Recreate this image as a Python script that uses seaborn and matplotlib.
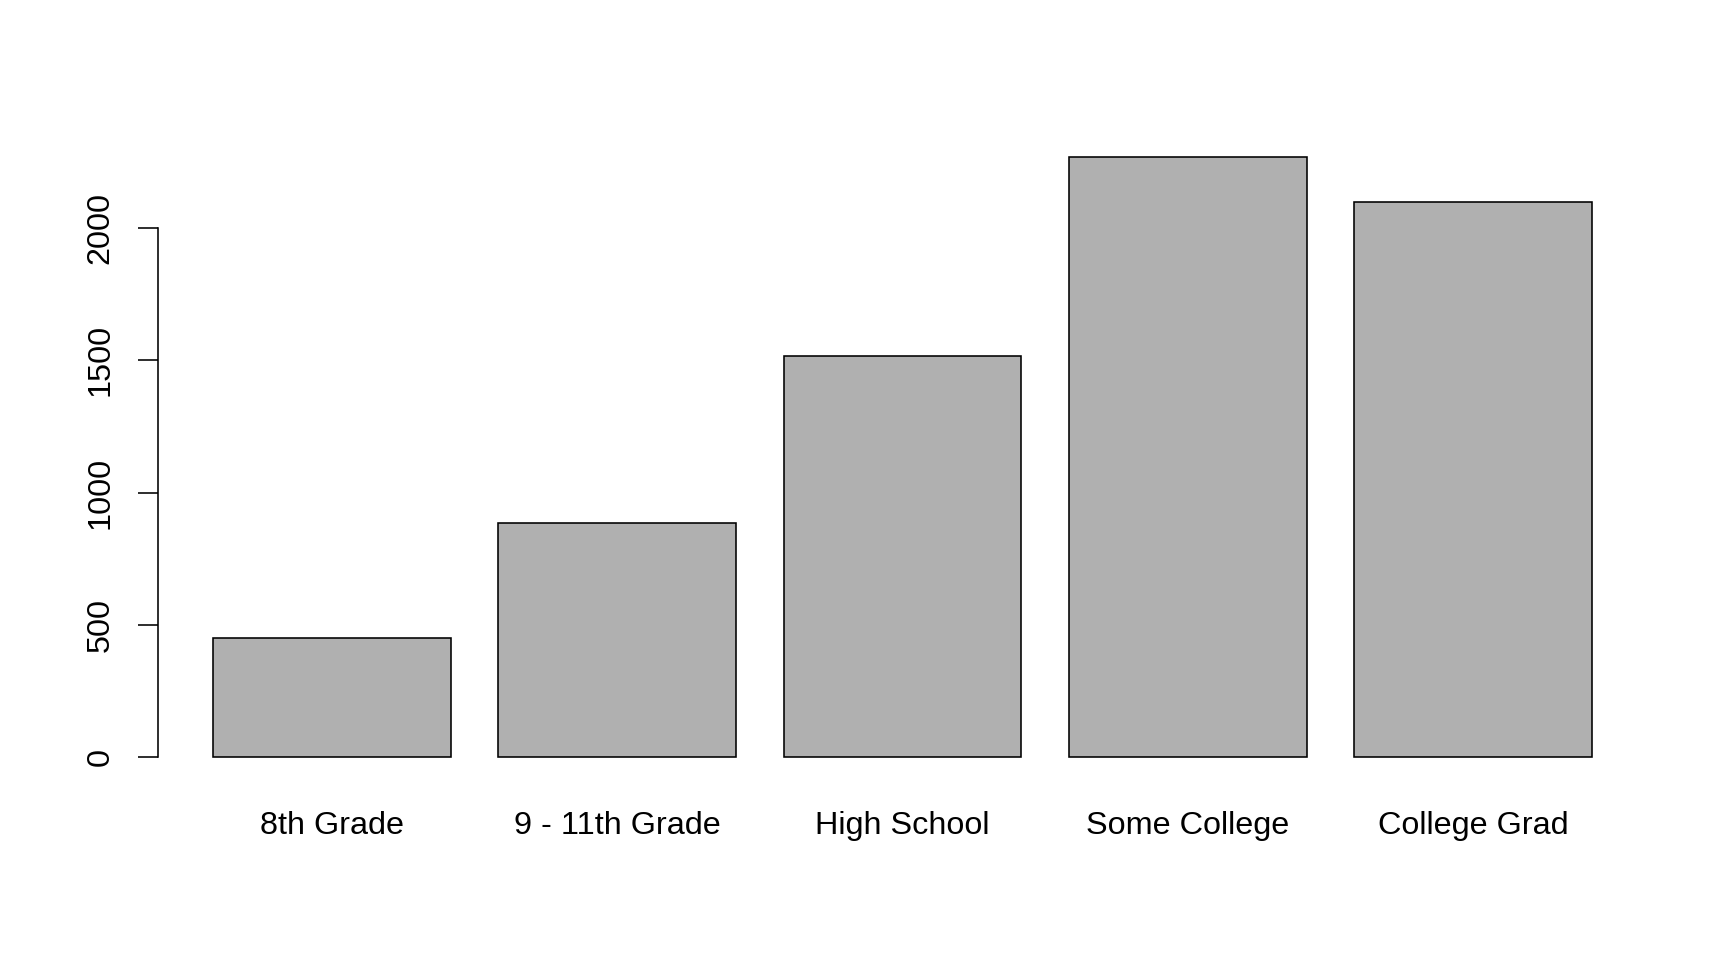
import pandas as pd
import seaborn as sns
import matplotlib.pyplot as plt

# dane
education = ['8th Grade', '9 - 11th Grade', 'High School', 'Some College', 'College Grad']
counts = [450, 887, 1517, 2267, 2100]
y_ticks = [0, 500, 1000, 1500, 2000]

df = pd.DataFrame({'education': education, 'count': counts})

sns.set_style('white')
plt.rcParams['font.family'] = ['Liberation Sans', 'DejaVu Sans']
plt.rcParams['text.color'] = 'black'
plt.rcParams['xtick.color'] = 'black'
plt.rcParams['ytick.color'] = 'black'

fig = plt.figure(figsize=(12, 960 / 144), dpi=144)
ax = fig.add_axes([0.0912, 0.1863, 0.9534 - 0.0912, 0.861 - 0.1863])

sns.barplot(data=df, x='education', y='count', order=education, color='#B0B0B0',
            saturation=1, width=1 / 1.2, edgecolor='black', linewidth=0.8, ax=ax)

# zakresy osi jak w barplot z R (rozszerzenie 4%)
ax.set_xlim(-0.61, 4.61)
top = max(counts)
ax.set_ylim(-0.04 * top, top * 1.04)

ax.set_yticks(y_ticks)
ax.set_yticklabels([str(t) for t in y_ticks], rotation=90, va='center', fontsize=16.2)
ax.tick_params(axis='y', left=True, length=10, width=0.8, pad=11, labelcolor='black')
ax.tick_params(axis='x', length=0, pad=15, labelsize=16.2, labelcolor='black')

ax.set_xlabel('')
ax.set_ylabel('')
for s in ['top', 'right', 'bottom']:
    ax.spines[s].set_visible(False)
ax.spines['left'].set_bounds(0, 2000)
ax.spines['left'].set_linewidth(0.8)
ax.spines['left'].set_color('black')

fig.savefig('out.png', dpi=144, facecolor='white')
